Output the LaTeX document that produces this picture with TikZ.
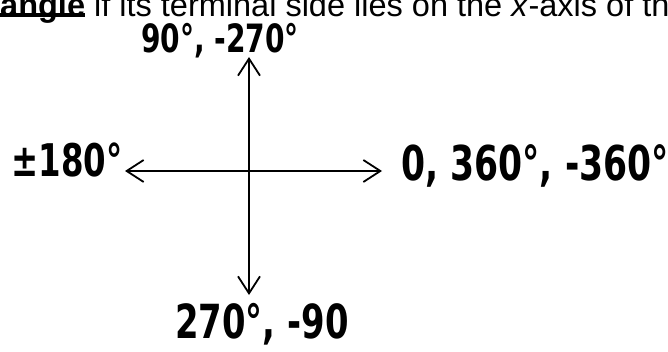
\documentclass[tikz,border=0pt]{standalone}
\usepackage{fontspec}
\setmainfont{Liberation Sans}
\newfontfamily\hand{DejaVu Sans}
\usetikzlibrary{arrows.meta}
\tikzset{
  axisline/.style={line width=1.8pt, -{Straight Barb[length=17pt,width=22pt,line width=1.8pt]}},
  handlbl/.style={inner sep=0pt, font=\hand\bfseries\fontsize{#1}{#1}\selectfont, xscale=0.72},
}
\begin{document}
\begin{tikzpicture}[x=1pt,y=-1pt]
\useasboundingbox (0,0) rectangle (668,352);
\begin{scope}
\clip (0,0) rectangle (668,352);
\node[anchor=base west, inner sep=0pt, font=\fontsize{32.5}{32.5}\selectfont] (hdr) at (0,17)
  {\textbf{angle} if its terminal side lies on the \textit{x}-axis of the};
\end{scope}
\fill (0,13.5) rectangle (85,17.5);
\coordinate (O) at (249,171);
\coordinate (N) at (249,57);
\coordinate (S) at (249,295);
\coordinate (W) at (125,171);
\coordinate (E) at (382,171);
\draw[axisline] (O) -- (N);
\draw[axisline] (O) -- (S);
\draw[axisline] (O) -- (W);
\draw[axisline] (O) -- (E);
\node[handlbl=39] (t90) at (220,40.5) {90°, -270°};
\node[handlbl=45] (t180) at (67,160) {±180°};
\node[handlbl=48] (t0) at (535,166) {0, 360°, -360°};
\node[handlbl=47] (t270) at (262,324) {270°, -90};
\end{tikzpicture}
\end{document}
